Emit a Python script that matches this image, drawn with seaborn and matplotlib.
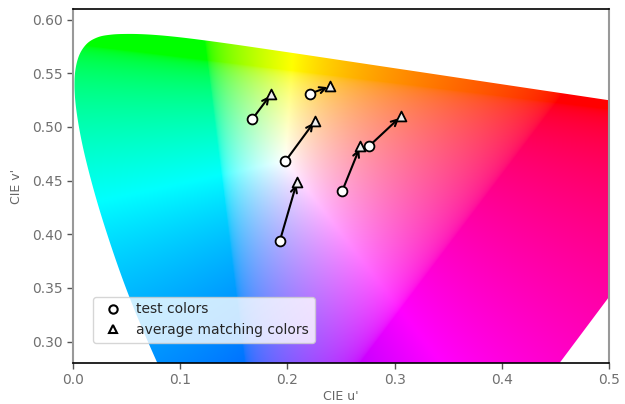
import numpy as np
import pandas as pd
import matplotlib
matplotlib.use("Agg")
import matplotlib.pyplot as plt
from matplotlib.patches import Polygon
from matplotlib.lines import Line2D
import seaborn as sns

# ---- data ----
test_u = [0.167, 0.221, 0.198, 0.193, 0.251, 0.276]
test_v = [0.507, 0.531, 0.468, 0.394, 0.440, 0.482]
match_u = [0.185, 0.240, 0.226, 0.209, 0.268, 0.306]
match_v = [0.531, 0.538, 0.506, 0.449, 0.482, 0.510]

# CIE 1931 2-degree spectral locus (x, y)
locus_x = [0.1741, 0.1733, 0.1714, 0.1644, 0.1566, 0.1440, 0.1355, 0.1241, 0.1096,
           0.0913, 0.0687, 0.0454, 0.0235, 0.0082, 0.0039, 0.0139, 0.0389, 0.0743,
           0.1142, 0.1547, 0.1929, 0.2296, 0.2658, 0.3016, 0.3373, 0.3731, 0.4087,
           0.4441, 0.4788, 0.5125, 0.5448, 0.5752, 0.6029, 0.6270, 0.6482, 0.6658,
           0.6801, 0.6915, 0.7006, 0.7079, 0.7190, 0.7260, 0.7300, 0.7334, 0.7347]
locus_y = [0.0050, 0.0048, 0.0051, 0.0109, 0.0177, 0.0297, 0.0399, 0.0578, 0.0868,
           0.1327, 0.2007, 0.2950, 0.4127, 0.5384, 0.6548, 0.7502, 0.8120, 0.8338,
           0.8262, 0.8059, 0.7816, 0.7543, 0.7243, 0.6923, 0.6589, 0.6245, 0.5896,
           0.5547, 0.5202, 0.4866, 0.4544, 0.4242, 0.3965, 0.3725, 0.3514, 0.3340,
           0.3197, 0.3083, 0.2993, 0.2920, 0.2809, 0.2740, 0.2700, 0.2666, 0.2653]

x_ticks = [0.0, 0.1, 0.2, 0.3, 0.4, 0.5]
y_ticks = [0.30, 0.35, 0.40, 0.45, 0.50, 0.55, 0.60]

sns.set_style("white")
plt.rcParams["font.family"] = ["DejaVu Sans"]

fig = plt.figure(figsize=(6.25, 4.04), dpi=100)
ax = fig.add_axes([73 / 625, 1 - 363 / 404, (609 - 73) / 625, (363 - 9) / 404])

# ---- background chromaticity colours ----
lx = np.array(locus_x)
ly = np.array(locus_y)
den = -2 * lx + 12 * ly + 3
lu = 4 * lx / den
lv = 9 * ly / den


def catmull_rom(px, py, sub=12):
    P = np.column_stack([px, py])
    P = np.vstack([P[0], P, P[-1]])
    out = []
    for i in range(1, len(P) - 2):
        p0, p1, p2, p3 = P[i - 1], P[i], P[i + 1], P[i + 2]
        for t in np.linspace(0, 1, sub, endpoint=False):
            t2, t3 = t * t, t * t * t
            out.append(0.5 * (2 * p1 + (-p0 + p2) * t
                              + (2 * p0 - 5 * p1 + 4 * p2 - p3) * t2
                              + (-p0 + 3 * p1 - 3 * p2 + p3) * t3))
    out.append(P[-2])
    return np.array(out)


curve = catmull_rom(lu, lv)

n = 800
uu, vv = np.meshgrid(np.linspace(0, 0.7, n), np.linspace(0, 0.65, n))
d = 6 * uu - 16 * vv + 12
xx = 9 * uu / d
yy = np.maximum(4 * vv / d, 1e-6)
X = xx / yy
Y = np.ones_like(X)
Z = (1 - xx - yy) / yy
M = np.array([[3.2404542, -1.5371385, -0.4985314],
              [-0.9692660, 1.8760108, 0.0415560],
              [0.0556434, -0.2040259, 1.0572252]])
XYZ = np.stack([X, Y, Z], axis=-1)
RGB = XYZ @ M.T
enc = np.where(RGB <= 0.0031308, RGB * 12.92,
               1.055 * np.power(np.abs(RGB), 1 / 2.4) - 0.055)
mx = np.max(enc, axis=-1, keepdims=True)
rgb = np.clip(enc / mx, 0, 1)

im = ax.imshow(rgb, origin="lower", extent=[0, 0.7, 0, 0.65],
               interpolation="bilinear", aspect="auto", zorder=0)
poly = Polygon(curve, closed=True, transform=ax.transData,
               facecolor="none", edgecolor="none")
ax.add_patch(poly)
im.set_clip_path(poly)

# ---- arrows ----
for u0, v0, u1, v1 in zip(test_u, test_v, match_u, match_v):
    ax.annotate("", xy=(u1, v1), xytext=(u0, v0),
                arrowprops=dict(arrowstyle="->", color="black", lw=1.5,
                                shrinkA=3, shrinkB=2, mutation_scale=11),
                zorder=2)

df_test = pd.DataFrame({"u": test_u, "v": test_v})
df_match = pd.DataFrame({"u": match_u, "v": match_v})
sns.scatterplot(data=df_test, x="u", y="v", marker="o", s=50, color="white",
                edgecolor="black", linewidth=1.3, ax=ax, zorder=3)
sns.scatterplot(data=df_match, x="u", y="v", marker="^", s=50, color="#eeeeee",
                edgecolor="black", linewidth=1.3, ax=ax, zorder=3)

ax.set_xlim(0, 0.5)
ax.set_ylim(0.28, 0.61)
ax.set_xticks(x_ticks)
ax.set_xticklabels(["0.0", "0.1", "0.2", "0.3", "0.4", "0.5"])
ax.set_yticks(y_ticks)
ax.set_yticklabels([f"{t:.2f}" for t in y_ticks])
ax.tick_params(axis="both", colors="#555555", labelcolor="#707070", labelsize=10,
               length=4, width=1, direction="out", bottom=True, left=True)
ax.set_xlabel("CIE u'", color="#666666", fontsize=9, labelpad=2)
ax.set_ylabel("CIE v'", color="#666666", fontsize=9, labelpad=6)
for s in ["left", "right"]:
    ax.spines[s].set_color("#999999")
    ax.spines[s].set_linewidth(1.5)
for s in ["top", "bottom"]:
    ax.spines[s].set_color("black")
    ax.spines[s].set_linewidth(1.2)

handles = [Line2D([], [], marker="o", ls="none", mfc="white", mec="black", mew=1.5, ms=6),
           Line2D([], [], marker="^", ls="none", mfc="white", mec="black", mew=1.5, ms=6)]
ax.legend(handles, ["test colors", "average matching colors"], loc="lower left",
          bbox_to_anchor=(0.03, 0.045), fontsize=10, frameon=True, framealpha=0.8,
          edgecolor="#cccccc", fancybox=True, borderaxespad=0.3,
          labelspacing=0.5, handletextpad=0.7)

fig.savefig("out.png", dpi=100)
